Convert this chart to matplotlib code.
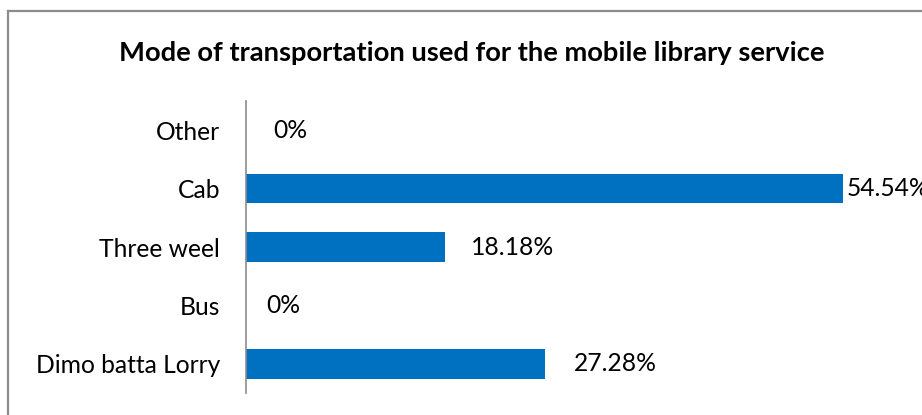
import matplotlib.pyplot as plt
from matplotlib.lines import Line2D

# data (bottom to top as drawn)
categories = ["Dimo batta Lorry", "Bus", "Three weel", "Cab", "Other"]
values = [27.28, 0, 18.18, 54.54, 0]
value_labels = ["27.28%", "0%", "18.18%", "54.54%", "0%"]
# label offsets in pixels from the bar end (as placed in the original)
label_offsets = [29, 20, 26, 3, 27]

plt.rcParams['font.family'] = ['Lato', 'DejaVu Sans']

fig = plt.figure(figsize=(9.22, 4.15), dpi=100)
W, H = 922, 415

# outer chart border: only top and left edges are visible in the original
border = dict(transform=fig.transFigure, color='#8c8c8c', linewidth=1.6)
fig.lines.append(Line2D([7.5 / W, 1], [1 - 11.5 / H] * 2, **border))
fig.lines.append(Line2D([7.5 / W] * 2, [0, 1 - 11.5 / H], **border))

fig.text(472 / W, 1 - 53 / H, "Mode of transportation used for the mobile library service",
         ha='center', va='center', fontsize=19.7, fontweight='bold')

ax = fig.add_axes([246 / W, (H - 393) / H, (W - 246) / W, 292 / H])
ypos = list(range(len(categories)))
ax.barh(ypos, values, height=0.51, color='#0070C0')
ax.set_xlim(0, (W - 246) / 10.95)
ax.set_ylim(-0.5, len(categories) - 0.5)

ax.set_yticks(ypos)
ax.set_yticklabels(categories, fontsize=17.7)
ax.tick_params(axis='y', length=0, pad=18.7)
ax.set_xticks([])
for s in ['top', 'right', 'bottom']:
    ax.spines[s].set_visible(False)
ax.spines['left'].set_color('#8c8c8c')
ax.spines['left'].set_linewidth(1.2)

for y, v, lab, off in zip(ypos, values, value_labels, label_offsets):
    ax.annotate(lab, (v, y), xytext=(off * 0.72, 0), textcoords='offset points',
                ha='left', va='center', fontsize=17.7, annotation_clip=False)

fig.savefig("out.png", dpi=100)
